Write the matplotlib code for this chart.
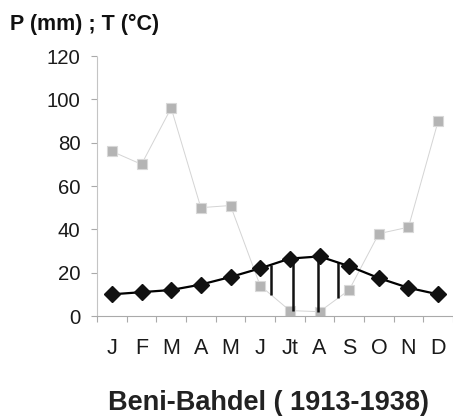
import matplotlib
matplotlib.use("Agg")
import matplotlib.pyplot as plt
import numpy as np

months = ["J", "F", "M", "A", "M", "J", "Jt", "A", "S", "O", "N", "D"]
precip = [76, 70, 96, 50, 51, 14, 2.5, 2, 12, 38, 41, 90]
temp = [10, 11, 12, 14.5, 18, 22, 26.5, 27.5, 23, 17.5, 13, 10]
yticks = [0, 20, 40, 60, 80, 100, 120]

# positions of the dry-season hatch lines (in month index units)
hatch_x = [5.36, 6.1, 6.94, 7.62]

plt.rcParams['font.family'] = ['Liberation Sans', 'DejaVu Sans']

fig = plt.figure(figsize=(4.53, 4.19), dpi=100)
ax = fig.add_axes([97/453, 103/419, 1 - 97/453, 260/419])

x = np.arange(len(months))
ax.plot(x, precip, color="#d4d4d4", lw=0.7, marker="s", ms=6.5,
        mfc="#b4b4b4", mec="#d8d8d8", mew=0.8, zorder=2)
ax.plot(x, temp, color="black", lw=1.6, marker="D", ms=8,
        mfc="#111111", mec="#111111", zorder=4)

for hx in hatch_x:
    lo = np.interp(hx, x, precip)
    hi = np.interp(hx, x, temp)
    ax.vlines(hx, lo, hi, color="#111111", lw=1.8, zorder=3)

ax.set_xlim(-0.5, (453 - 112) / 30.09)
ax.set_ylim(0, 120)
ax.set_yticks(yticks)
ax.set_yticklabels([str(v) for v in yticks], fontsize=14.7, color="#1a1a1a")
ax.set_xticks(x)
ax.set_xticklabels(months, fontsize=15.5, color="#1a1a1a")
ax.set_xticks(np.arange(-0.5, 12, 1), minor=True)
ax.tick_params(axis="x", which="major", length=0, pad=16)
ax.tick_params(axis="x", which="minor", length=4, color="#aaaaaa", width=0.8)
ax.tick_params(axis="y", length=4, color="#aaaaaa", width=0.8, pad=8)

for s in ["top", "right"]:
    ax.spines[s].set_visible(False)
ax.spines["left"].set_color("#c4c4c4")
ax.spines["left"].set_linestyle((0, (2, 1)))
ax.spines["left"].set_linewidth(0.8)
ax.spines["bottom"].set_color("#aaaaaa")
ax.spines["bottom"].set_linewidth(0.8)

fig.text(10/453, 1 - 24/419, "P (mm) ; T (°C)", fontsize=15.5, fontweight="bold",
         va="center", ha="left", color="#111111")
fig.text(269/453, 1 - 403/419, "Beni-Bahdel ( 1913-1938)", fontsize=19.5,
         fontweight="bold", ha="center", va="center", color="#222222")

fig.savefig("out.png", dpi=100)
